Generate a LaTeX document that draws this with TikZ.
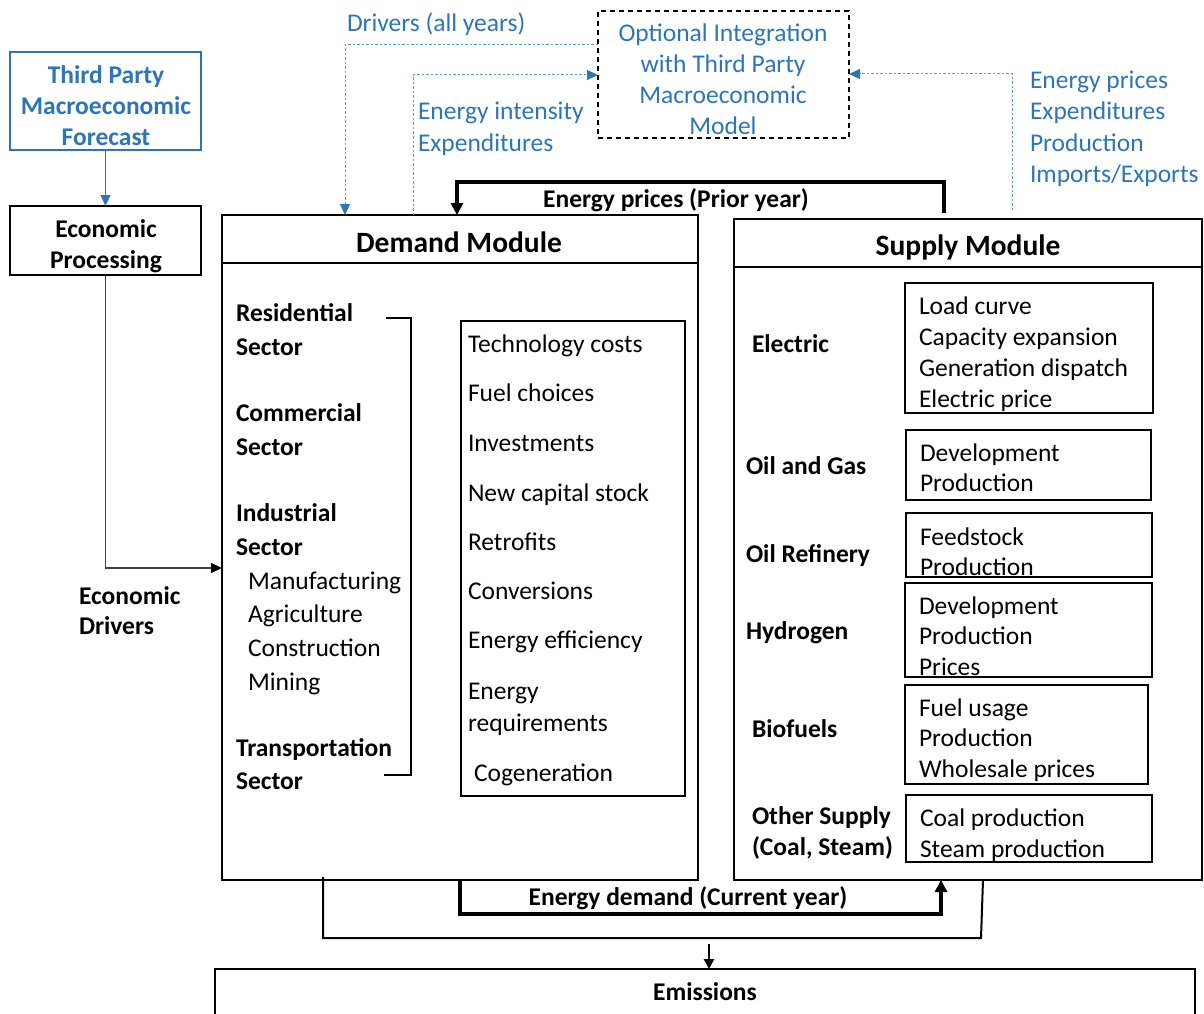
\documentclass[tikz,border=0pt]{standalone}
\usepackage{fontspec}
\setmainfont{Carlito}
\usetikzlibrary{arrows.meta}
\definecolor{tblue}{HTML}{2E75B6}
\definecolor{lblue}{HTML}{5B9BD5}
\begin{document}
\begin{tikzpicture}[x=1pt,y=-1pt,
  every node/.style={inner sep=0pt,outer sep=0pt},
  box/.style={draw,line width=1.5pt,anchor=north west},
  ibox/.style={draw,line width=2pt,anchor=north west},
  optbox/.style={draw,line width=1.5pt,anchor=north west,dash pattern=on 5pt off 4pt},
  txt/.style={anchor=base west,font=\fontsize{25.5}{31}\selectfont},
  btxt/.style={anchor=base west,font=\fontsize{25.5}{31}\selectfont\bfseries},
  ctxt/.style={anchor=base,font=\fontsize{25.5}{31}\selectfont},
  cbtxt/.style={anchor=base,font=\fontsize{25.5}{31}\selectfont\bfseries},
  htxt/.style={anchor=base,font=\fontsize{29.5}{36}\selectfont\bfseries},
  bluetxt/.style={text=tblue},
  dotarrow/.style={draw=lblue,line width=1pt,dash pattern=on 2.5pt off 2pt,-{Triangle[length=11pt,width=10pt,fill=tblue,color=tblue]}},
  bluearrow/.style={draw=tblue,line width=1.2pt,-{Triangle[length=11pt,width=10pt]}},
  thinarrow/.style={draw=black!75,line width=1.3pt,-{Triangle[length=11pt,width=10pt,fill=black,color=black]}},
  thickarrow/.style={draw,line width=4pt,-{Triangle[length=12pt,width=12pt]}},
  thinline/.style={draw,line width=2pt},
  bracket/.style={draw,line width=2.5pt}
]
\useasboundingbox (0,0) rectangle (1204,1014);

% ---------- Left column ----------
\node[box,draw=tblue,minimum width=191pt,minimum height=98pt] (third) at (10,52) {};
\node[cbtxt,bluetxt] (third1) at (106,84) {Third Party};
\node[cbtxt,bluetxt] (third2) at (106,115) {Macroeconomic};
\node[cbtxt,bluetxt] (third3) at (106,146) {Forecast};

\node[box,minimum width=191pt,minimum height=69pt] (econ) at (10,206) {};
\node[cbtxt] (econ1) at (106,237) {Economic};
\node[cbtxt] (econ2) at (106,268) {Processing};

\node[btxt] (drv1) at (79,604) {Economic};
\node[btxt] (drv2) at (79,634) {Drivers};

% ---------- Optional integration ----------
\node[optbox,minimum width=251pt,minimum height=127pt] (opt) at (598,11) {};
\foreach \t/\y [count=\i] in {Optional Integration/42, with Third Party/73, Macroeconomic/104, Model/135}
  \node[ctxt,bluetxt] (opt\i) at (723,\y) {\t};

\node[txt,bluetxt] (drvall) at (347,32) {Drivers (all years)};
\node[txt,bluetxt] (ei1) at (418,120) {Energy intensity};
\node[txt,bluetxt] (ei2) at (418,151) {Expenditures};
\node[txt,bluetxt] (ep1) at (1030,89) {Energy prices};
\node[txt,bluetxt] (ep2) at (1030,120) {Expenditures};
\node[txt,bluetxt] (ep3) at (1030,151) {Production};
\node[txt,bluetxt] (ep4) at (1030,182) {Imports/Exports};

% ---------- Demand module ----------
\node[box,minimum width=476pt,minimum height=665pt] (demand) at (222,215) {};
\draw[line width=1.5pt] (demand.west |- 0,263) -- (demand.east |- 0,263);
\node[htxt] (demandt) at (459,252) {Demand Module};

\foreach \t/\y [count=\i] in {Residential/321, Sector/355, Commercial/421, Sector/455, Industrial/521, Sector/555, Transportation/756, Sector/789}
  \node[btxt] (sec\i) at (236,\y) {\t};
\foreach \t/\y [count=\i] in {Manufacturing/589, Agriculture/622, Construction/656, Mining/690}
  \node[txt] (ind\i) at (248,\y) {\t};
\draw[bracket] (386,318) -| (411,775) -- (384,775);

\node[ibox,minimum width=224pt,minimum height=475pt] (dlist) at (461,321) {};
\foreach \t/\y [count=\i] in {Technology costs/352, Fuel choices/401, Investments/451, New capital stock/501, Retrofits/550, Conversions/599, Energy efficiency/648, Energy/699, requirements/731}
  \node[txt] (dl\i) at (468,\y) {\t};
\node[txt] (dlcog) at (474,781) {Cogeneration};

% ---------- Supply module ----------
\node[box,minimum width=468pt,minimum height=661pt] (supply) at (734,219) {};
\draw[line width=1.5pt] (supply.west |- 0,267) -- (supply.east |- 0,267);
\node[htxt] (supplyt) at (968,255) {Supply Module};

\node[btxt] (s1) at (752,352) {Electric};
\node[btxt] (s2) at (746,474) {Oil and Gas};
\node[btxt] (s3) at (746,562) {Oil Refinery};
\node[btxt] (s4) at (746,639) {Hydrogen};
\node[btxt] (s5) at (752,737) {Biofuels};
\node[btxt] (s6) at (752,824) {Other Supply};
\node[btxt] (s7) at (752,855) {(Coal, Steam)};

\node[ibox,minimum width=248pt,minimum height=130pt] (bel) at (905,283) {};
\foreach \t [count=\i] in {Load curve, Capacity expansion, Generation dispatch, Electric price}
  \node[txt] (el\i) at (919,283+31*\i) {\t};

\node[ibox,minimum width=245pt,minimum height=70pt] (bog) at (906,430) {};
\node[txt] (og1) at (920,461) {Development};
\node[txt] (og2) at (920,491) {Production};

\node[ibox,minimum width=246pt,minimum height=64pt] (bref) at (906,513) {};
\node[txt] (rf1) at (920,545) {Feedstock};
\node[txt] (rf2) at (920,575) {Production};

\node[ibox,minimum width=247pt,minimum height=94pt] (bhy) at (905,583) {};
\node[txt] (hy1) at (919,614) {Development};
\node[txt] (hy2) at (919,644) {Production};
\node[txt] (hy3) at (919,675) {Prices};

\node[ibox,minimum width=243pt,minimum height=99pt] (bbio) at (905,685) {};
\node[txt] (bi1) at (919,716) {Fuel usage};
\node[txt] (bi2) at (919,746) {Production};
\node[txt] (bi3) at (919,777) {Wholesale prices};

\node[ibox,minimum width=246pt,minimum height=67pt] (both) at (906,795) {};
\node[txt] (ot1) at (920,826) {Coal production};
\node[txt] (ot2) at (920,857) {Steam production};

% ---------- Emissions ----------
\node[box,minimum width=980pt,minimum height=60pt] (emis) at (215,969) {};
\node[cbtxt] (emist) at (705,1000) {Emissions};

% ---------- Connectors ----------
\draw[bluearrow] (third.south) -- (econ.north);
\draw[thinarrow] (econ.south) |- (demand.west |- 0,568);

\draw[dotarrow] (opt.west |- 0,45) -| (demand.north -| 345,0);
\draw[dotarrow] (demand.north -| 413,0) |- (opt.west |- 0,75);
\coordinate (epstart) at (1012,210);
\draw[dotarrow] (epstart) |- (opt.east |- 0,74);

\coordinate (prstart) at (944,213);
\draw[thickarrow] (prstart) |- (457,182) -- (demand.north -| 457,0);
\node[cbtxt] (prlab) at (676,207) {Energy prices (Prior year)};

\draw[thickarrow] (demand.south -| 460,0) |- (941,914) -- (supply.south -| 941,0);
\node[cbtxt] (edlab) at (688,905) {Energy demand (Current year)};

\coordinate (emA) at (323,877);
\coordinate (emB) at (983,880);
\draw[thinline] (emA) |- (981,938) -- (emB);
\coordinate (emC) at (709,944);
\draw[draw,line width=2.5pt,-{Triangle[length=10pt,width=10pt]}] (emC) -- (emis.north -| emC);
\end{tikzpicture}
\end{document}
